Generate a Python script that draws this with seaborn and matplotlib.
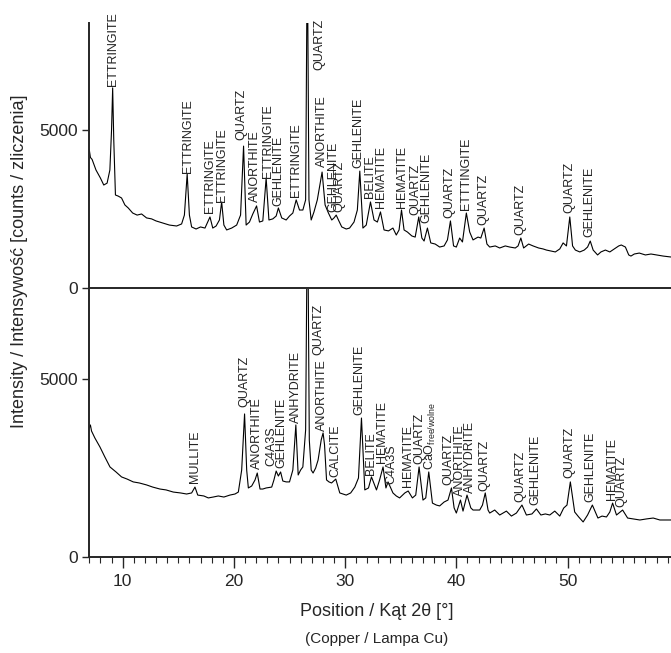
import matplotlib
matplotlib.use("Agg")
import matplotlib.pyplot as plt
from matplotlib.ticker import MultipleLocator
import pandas as pd
import seaborn as sns

# upper pattern (2theta, counts)
top_2theta = [
    7.0, 7.1, 7.25, 7.6, 8.0, 8.3, 8.6, 8.85, 9.0, 9.1, 9.2, 9.35, 9.6, 9.9, 10.2, 10.5, 10.9,
    11.3, 11.7, 12.15, 12.6, 13.0, 13.6, 14.2, 14.85, 15.3, 15.55, 15.8, 16.0, 16.2, 16.6, 17.0,
    17.4, 17.85, 18.1, 18.4, 18.7, 18.9, 19.1, 19.35, 19.8, 20.25, 20.6, 20.87, 21.1, 21.4, 21.7,
    22.04, 22.3, 22.6, 22.9, 23.15, 23.5, 23.8, 24.0, 24.3, 24.7, 25.0, 25.3, 25.6, 25.9, 26.2,
    26.45, 26.6, 26.75, 26.95, 27.2, 27.5, 27.93, 28.2, 28.5, 28.8, 29.0, 29.2, 29.4, 29.7, 30.1,
    30.4, 30.8, 31.1, 31.32, 31.6, 31.9, 32.28, 32.6, 32.9, 33.18, 33.5, 33.9, 34.3, 34.6, 34.85,
    35.07, 35.3, 35.6, 36.0, 36.3, 36.62, 36.9, 37.1, 37.4, 37.7, 38.1, 38.5, 38.9, 39.2, 39.47,
    39.75, 40.0, 40.3, 40.55, 40.9, 41.2, 41.5, 41.95, 42.2, 42.5, 42.75, 43.0, 43.5, 43.9, 44.4,
    44.8, 45.3, 45.55, 45.8, 46.05, 46.5, 46.9, 47.4, 47.8, 48.1, 48.5, 48.9, 49.3, 49.6, 49.9,
    50.2, 50.45, 50.7, 51.1, 51.5, 51.8, 52.04, 52.3, 52.7, 53.0, 53.4, 53.8, 54.2, 54.6, 54.83,
    55.2, 55.5, 55.7, 56.0, 56.45, 57.0, 57.5, 58.0, 58.6, 59.3,
]
top_counts = [
    4380, 4140, 4080, 3745, 3490, 3270, 3330, 3745, 5010, 6340, 4690, 2955, 2920, 2860, 2640, 2545, 2385,
    2320, 2355, 2230, 2200, 2135, 2070, 2005, 1975, 2040, 2320, 3620, 2320, 1945, 1880, 1945,
    1910, 2260, 1910, 1975, 2165, 2735, 2005, 1850, 1910, 2005, 2320, 4500, 2005, 2100, 2355,
    2610, 2100, 2135, 3490, 2165, 2200, 2290, 2545, 2230, 2165, 2290, 2385, 2800, 2480, 2480,
    2800, 11000, 2800, 2165, 2420, 2800, 3680, 2640, 2385, 2165, 2230, 2320, 2165, 1945, 1880,
    1910, 2100, 2480, 3710, 1910, 2005, 2735, 2165, 2100, 2420, 1850, 1820, 1910, 1690, 1850,
    2480, 1850, 1785, 1660, 1625, 2260, 1595, 1500, 1910, 1440, 1405, 1310, 1345, 1535, 2135,
    1345, 1310, 1595, 1470, 2385, 1785, 1535, 1625, 1595, 1910, 1405, 1310, 1345, 1280, 1345,
    1310, 1280, 1345, 1595, 1280, 1405, 1345, 1280, 1250, 1215, 1185, 1155, 1250, 1440, 1345,
    2260, 1345, 1215, 1155, 1215, 1310, 1500, 1215, 1060, 1155, 1215, 1155, 1250, 1345, 1375,
    1310, 1060, 1025, 1090, 1120, 1060, 1090, 1060, 1025, 995,
]

# lower pattern (2theta, counts)
bottom_2theta = [
    7.0, 7.1, 7.2, 7.5, 7.96, 8.4, 8.86, 9.4, 9.9, 10.4, 10.95, 11.5, 12.15, 12.7, 13.35, 13.9,
    14.55, 15.2, 15.75, 16.2, 16.5, 16.75, 17.3, 17.7, 18.14, 18.6, 19.1, 19.64, 20.1, 20.4, 20.7,
    20.96, 21.15, 21.3, 21.6, 21.9, 22.1, 22.35, 22.6, 22.9, 23.4, 23.6, 23.8, 24.0, 24.2, 24.4,
    24.7, 25.0, 25.3, 25.57, 25.78, 26.0, 26.2, 26.45, 26.62, 26.78, 26.95, 27.12, 27.35, 27.57,
    27.85, 28.02, 28.15, 28.33, 28.55, 28.78, 29.16, 29.52, 29.8, 30.1, 30.5, 30.87, 31.2, 31.47,
    31.77, 32.1, 32.37, 32.82, 33.1, 33.41, 33.67, 33.86, 34.3, 34.6, 34.9, 35.37, 35.67, 36.05,
    36.35, 36.65, 37.0, 37.25, 37.52, 37.85, 38.2, 38.5, 38.9, 39.25, 39.56, 39.8, 40.0, 40.37,
    40.6, 40.96, 41.3, 41.5, 42.1, 42.35, 42.6, 42.85, 43.0, 43.45, 43.9, 44.5, 44.95, 45.4, 45.9,
    46.3, 46.8, 47.2, 47.6, 48.0, 48.4, 48.85, 49.3, 49.65, 49.95, 50.25, 50.64, 51.0, 51.4, 51.8,
    52.23, 52.73, 53.1, 53.5, 53.8, 54.05, 54.4, 54.95, 55.4, 55.9, 56.5, 57.1, 57.7, 58.3, 59.3,
]
bottom_counts = [
    3625, 3710, 3540, 3345, 3090, 2810, 2530, 2390, 2250, 2190, 2110, 2080, 2025, 1965, 1910, 1885,
    1825, 1800, 1770, 1800, 1965, 1740, 1715, 1660, 1685, 1715, 1685, 1740, 1770, 1825, 2445,
    4020, 2445, 1940, 1995, 2165, 2360, 1910, 1910, 1940, 1965, 2165, 2415, 2275, 2390, 2135,
    2110, 2110, 2445, 3710, 2305, 2445, 2530, 3570, 10500, 3290, 2445, 2360, 2500, 2725,
    3290, 3485, 3150, 2165, 2110, 2080, 2190, 1800, 1770, 1740, 1800, 1965, 2220, 3905,
    1885, 1940, 2250, 1885, 2165, 2530, 1940, 2110, 1800, 1715, 1660, 1800, 1855, 1660,
    1740, 2530, 1600, 1660, 2390, 1515, 1460, 1435, 1545, 1600, 1940, 1380, 1235, 1600,
    1290, 1740, 1380, 1320, 1320, 1460, 1800, 1320, 1235, 1320, 1180, 1290, 1150, 1235, 1460,
    1180, 1210, 1350, 1180, 1210, 1180, 1290, 1150, 1375, 1460, 2110, 1265, 1125, 985, 1180,
    1460, 1095, 1150, 1125, 1265, 1515, 1180, 1320, 1095, 1070, 1040, 1070, 1095, 1040, 1040,
]

# phase labels: name, 2theta, counts at label foot
top_names = [
    "ETTRINGITE", "ETTRINGITE", "ETTRINGITE", "ETTRINGITE", "QUARTZ", "ANORTHITE", "ETTRINGITE",
    "GEHLENITE", "ETTRINGITE", "QUARTZ", "ANORTHITE", "GEHLENITE", "QUARTZ", "GEHLENITE",
    "BELITE", "HEMATITE", "HEMATITE", "QUARTZ", "GEHLENITE", "QUARTZ", "ETTTINGITE", "QUARTZ",
    "QUARTZ", "QUARTZ", "GEHLENITE",
]
top_label_x = [
    9.15, 15.9, 17.85, 18.9, 20.7, 21.9, 23.1, 24.0, 25.6, 27.7, 27.9, 28.9, 29.5, 31.2,
    32.2, 33.2, 35.1, 36.35, 37.35, 39.35, 40.85, 42.45, 45.8, 50.2, 52.0,
]
top_label_y = [
    6400, 3650, 2385, 2735, 4690, 2735, 3490, 2610, 2890, 6900, 3840, 2420, 2420, 3810,
    2860, 2545, 2545, 2320, 2070, 2230, 2480, 2005, 1690, 2385, 1625,
]

bottom_names = [
    "MULLITE", "QUARTZ", "ANORTHITE", "C4A3S", "GEHLENITE", "ANHYDRITE", "QUARTZ", "ANORTHITE",
    "CALCITE", "GEHLENITE", "BELITE", "HEMATITE", "C4A3S", "HEMATITE", "QUARTZ",
    r"CaO$_{\mathregular{free/wolne}}$", "QUARTZ", "ANORTHITE", "ANHYDRITE", "QUARTZ", "QUARTZ",
    "GEHLENITE", "QUARTZ", "GEHLENITE", "HEMATITE", "QUARTZ",
]
bottom_label_x = [
    16.5, 20.96, 22.1, 23.4, 24.3, 25.55, 27.6, 27.9, 29.1, 31.3, 32.3, 33.3, 34.2, 35.67, 36.7,
    37.7, 39.3, 40.3, 41.2, 42.5, 45.75, 47.1, 50.2, 52.08, 54.0, 54.87,
]
bottom_label_y = [
    2080, 4215, 2475, 2555, 2500, 3765, 5675, 3540, 2250, 3990, 2305, 2640, 2050, 1965, 2615,
    2445, 2025, 1715, 1800, 1855, 1545, 1460, 2220, 1545, 1600, 1405,
]

sns.set_style("ticks")
plt.rcParams["font.family"] = ["Liberation Sans", "DejaVu Sans"]
plt.rcParams["mathtext.fontset"] = "custom"
plt.rcParams["mathtext.rm"] = "Liberation Sans"

fig = plt.figure(figsize=(6.71, 6.53), dpi=100)
ax_top = fig.add_axes([89.3 / 671, 1 - 288.5 / 653, 1 - 89.3 / 671, 265.5 / 653])
ax_bot = fig.add_axes([89.3 / 671, 1 - 557 / 653, 1 - 89.3 / 671, 268.5 / 653])

df_top = pd.DataFrame({"x": top_2theta, "y": top_counts})
df_bot = pd.DataFrame({"x": bottom_2theta, "y": bottom_counts})
sns.lineplot(data=df_top, x="x", y="y", ax=ax_top, color="black", lw=0.8, estimator=None, sort=False)
sns.lineplot(data=df_bot, x="x", y="y", ax=ax_bot, color="black", lw=0.8, estimator=None, sort=False)

for ax, names, lx, ly in [(ax_top, top_names, top_label_x, top_label_y),
                          (ax_bot, bottom_names, bottom_label_x, bottom_label_y)]:
    for name, x, y in zip(names, lx, ly):
        ax.text(x, y, name, rotation=90, ha="center", va="bottom", fontsize=9, color="#222222")

ax_top.set_ylim(0, 8390)
ax_bot.set_ylim(0, 7545)
for ax in (ax_top, ax_bot):
    ax.set_xlim(7, 59.3)
    ax.set_yticks([0, 5000])
    ax.set_xlabel("")
    ax.set_ylabel("")
    for side in ("top", "right"):
        ax.spines[side].set_visible(False)
    ax.spines["left"].set_linewidth(1.4)
    ax.spines["bottom"].set_linewidth(1.4)
    ax.tick_params(axis="y", direction="out", length=5, width=1.0, labelsize=12.5, pad=3)

ax_top.tick_params(axis="x", bottom=False, labelbottom=False)
ax_bot.xaxis.set_major_locator(MultipleLocator(10))
ax_bot.xaxis.set_minor_locator(MultipleLocator(1))
ax_bot.tick_params(axis="x", which="major", direction="out", length=8, width=1.0, labelsize=12.5, pad=4)
ax_bot.tick_params(axis="x", which="minor", direction="out", length=4.5, width=0.8)

fig.text(20 / 671, 1 - 261 / 653, "Intensity / Intensywość [counts / zliczenia]",
         rotation=90, ha="center", va="center", fontsize=13)
fig.text(377 / 671, 1 - 611 / 653, "Position / Kąt 2θ [°]", ha="center", va="center", fontsize=13)
fig.text(377 / 671, 1 - 639 / 653, "(Copper / Lampa Cu)", ha="center", va="center", fontsize=11)

fig.savefig("out.png", dpi=100)
